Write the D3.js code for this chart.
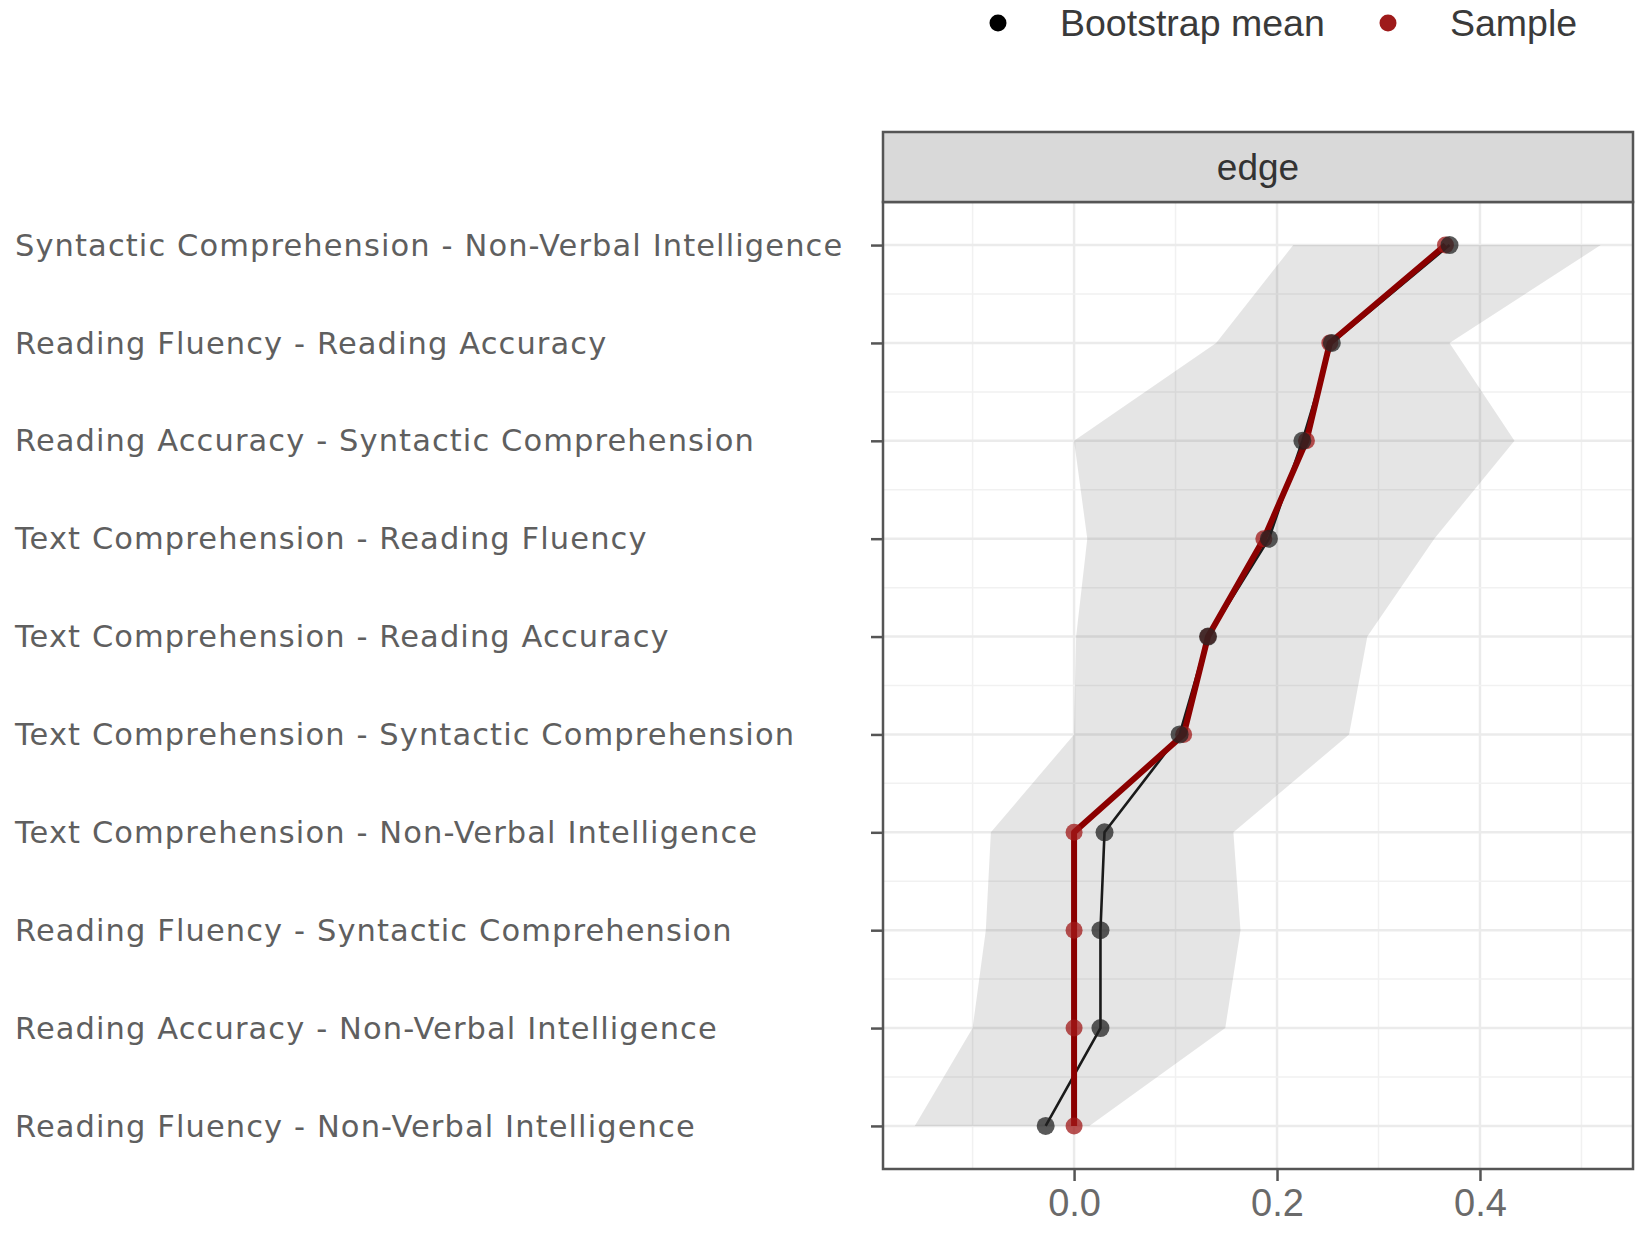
<!DOCTYPE html>
<html>
<head>
<meta charset="utf-8">
<script src="https://cdn.jsdelivr.net/npm/d3@7"></script>
<style>
html,body{margin:0;padding:0;background:#fff;}
svg{display:block;}
</style>
</head>
<body>
<svg id="chart" width="1650" height="1243"></svg>
<script>
// ---- data ----
const categories = [
  "Syntactic Comprehension - Non-Verbal Intelligence",
  "Reading Fluency - Reading Accuracy",
  "Reading Accuracy - Syntactic Comprehension",
  "Text Comprehension - Reading Fluency",
  "Text Comprehension - Reading Accuracy",
  "Text Comprehension - Syntactic Comprehension",
  "Text Comprehension - Non-Verbal Intelligence",
  "Reading Fluency - Syntactic Comprehension",
  "Reading Accuracy - Non-Verbal Intelligence",
  "Reading Fluency - Non-Verbal Intelligence"
];
const bootstrapMean = [0.370, 0.254, 0.225, 0.192, 0.132, 0.104, 0.030, 0.026, 0.026, -0.028];
const sampleValues  = [0.366, 0.252, 0.229, 0.187, 0.132, 0.108, 0.000, 0.000, 0.000, 0.000];
const ciLower = [0.216, 0.140, 0.000, 0.013, 0.002, 0.000, -0.082, -0.087, -0.100, -0.157];
const ciUpper = [0.519, 0.370, 0.434, 0.355, 0.289, 0.271, 0.157, 0.164, 0.149, 0.015];
const xTicks = [0.0, 0.2, 0.4];
const xMinor = [-0.1, 0.1, 0.3, 0.5];
const stripLabel = "edge";
const legendItems = [
  {label: "Bootstrap mean", color: "#000000"},
  {label: "Sample", color: "#9e1a1a"}
];

// ---- layout ----
const svg = d3.select("#chart");
const P = {left: 883, right: 1633, top: 202, bottom: 1169};
const stripTop = 132;

const x = d3.scaleLinear().domain([-0.1883, 0.5508]).range([P.left, P.right]);
const y = d3.scalePoint().domain(categories).range([P.top, P.bottom]).padding(0.44);

const gridColor = "#ebebeb";
const g = svg.append("g");

// panel background
g.append("rect").attr("x", P.left).attr("y", P.top)
  .attr("width", P.right - P.left).attr("height", P.bottom - P.top).attr("fill", "#fff");

// x grid (minor + major)
g.selectAll("line.xminor").data(xMinor).enter().append("line")
  .attr("x1", d => x(d)).attr("x2", d => x(d)).attr("y1", P.top).attr("y2", P.bottom)
  .attr("stroke", "#f1f1f1").attr("stroke-width", 1.5);
g.selectAll("line.xmajor").data(xTicks).enter().append("line")
  .attr("x1", d => x(d)).attr("x2", d => x(d)).attr("y1", P.top).attr("y2", P.bottom)
  .attr("stroke", gridColor).attr("stroke-width", 2.5);

// y grid (major at categories, minor between)
const step = y.step();
const yMid = categories.slice(0, -1).map(c => y(c) + step / 2);
g.selectAll("line.yminor").data(yMid).enter().append("line")
  .attr("x1", P.left).attr("x2", P.right).attr("y1", d => d).attr("y2", d => d)
  .attr("stroke", "#f1f1f1").attr("stroke-width", 1.5);
g.selectAll("line.ymajor").data(categories).enter().append("line")
  .attr("x1", P.left).attr("x2", P.right).attr("y1", d => y(d)).attr("y2", d => y(d))
  .attr("stroke", gridColor).attr("stroke-width", 2.5);

// ribbon
const ribbon = categories.map((c, i) => ({c, lo: ciLower[i], hi: ciUpper[i]}));
g.append("path").datum(ribbon)
  .attr("d", d3.area().y(d => y(d.c)).x0(d => x(d.lo)).x1(d => x(d.hi)))
  .attr("fill", "#000").attr("fill-opacity", 0.1);

// lines
const boot = categories.map((c, i) => ({c, v: bootstrapMean[i]}));
const samp = categories.map((c, i) => ({c, v: sampleValues[i]}));
const line = d3.line().x(d => x(d.v)).y(d => y(d.c));
g.append("path").datum(boot).attr("d", line).attr("fill", "none")
  .attr("stroke", "#1a1a1a").attr("stroke-width", 2.6);
g.append("path").datum(samp).attr("d", line).attr("fill", "none")
  .attr("stroke", "#8B0000").attr("stroke-width", 6).attr("stroke-linejoin", "round");

// points
g.selectAll("circle.samp").data(samp).enter().append("circle")
  .attr("cx", d => x(d.v)).attr("cy", d => y(d.c)).attr("r", 8.5)
  .attr("fill", "#a01818").attr("fill-opacity", 0.75);
g.selectAll("circle.boot").data(boot).enter().append("circle")
  .attr("cx", d => x(d.v)).attr("cy", d => y(d.c)).attr("r", 9)
  .attr("fill", "#222").attr("fill-opacity", 0.75);

// panel border
g.append("rect").attr("x", P.left).attr("y", P.top)
  .attr("width", P.right - P.left).attr("height", P.bottom - P.top)
  .attr("fill", "none").attr("stroke", "#555").attr("stroke-width", 2.5);

// strip
g.append("rect").attr("x", P.left).attr("y", stripTop)
  .attr("width", P.right - P.left).attr("height", P.top - stripTop)
  .attr("fill", "#d9d9d9").attr("stroke", "#555").attr("stroke-width", 2.5);
g.append("text").attr("x", (P.left + P.right) / 2).attr("y", (stripTop + P.top) / 2)
  .attr("dy", "0.35em").attr("text-anchor", "middle")
  .attr("font-family", "Liberation Sans, Arial, sans-serif").attr("font-size", 37)
  .attr("fill", "#333").text(stripLabel);

// x axis
const xAxis = d3.axisBottom(x).tickValues(xTicks).tickFormat(d3.format(".1f"))
  .tickSizeInner(12).tickSizeOuter(0).tickPadding(8);
const xa = svg.append("g").attr("transform", `translate(0,${P.bottom})`).call(xAxis);
xa.select(".domain").remove();
xa.selectAll(".tick line").attr("stroke", "#555").attr("stroke-width", 2.5);
xa.selectAll(".tick text").attr("font-family", "Liberation Sans, Arial, sans-serif")
  .attr("font-size", 38).attr("fill", "#6a6a6a");

// y axis ticks
const yAxis = d3.axisLeft(y).tickSizeInner(12).tickSizeOuter(0).tickFormat("");
const ya = svg.append("g").attr("transform", `translate(${P.left},0)`).call(yAxis);
ya.select(".domain").remove();
ya.selectAll(".tick line").attr("stroke", "#555").attr("stroke-width", 2.5);

// y labels (left aligned)
svg.append("g").selectAll("text").data(categories).enter().append("text")
  .attr("x", 15).attr("y", d => y(d)).attr("dy", "0.35em")
  .attr("font-family", "DejaVu Sans, Verdana, sans-serif").attr("font-size", 30.5)
  .attr("letter-spacing", 1.1)
  .attr("fill", "#5f5f5f").text(d => d);

// legend
const lg = svg.append("g").attr("font-family", "Liberation Sans, Arial, sans-serif")
  .attr("font-size", 37.5).attr("fill", "#3a3a3a");
const legendX = [998, 1388];
legendItems.forEach((it, i) => {
  lg.append("circle").attr("cx", legendX[i]).attr("cy", 23).attr("r", 8.5).attr("fill", it.color);
  lg.append("text").attr("x", legendX[i] + 62).attr("y", 23).attr("dy", "0.35em").text(it.label);
});
</script>
</body>
</html>
